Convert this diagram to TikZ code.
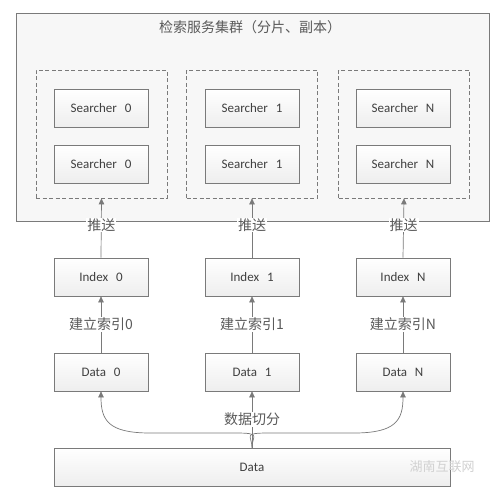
\documentclass[tikz,border=0pt]{standalone}
\usepackage{fontspec}
\setmainfont{Carlito}
\newfontfamily\cjk{Noto Sans CJK SC}
\usetikzlibrary{arrows.meta,shadows}
\definecolor{linec}{HTML}{7A7A7A}
\definecolor{txtc}{HTML}{404040}
\definecolor{cjkc}{HTML}{5A5A5A}
\definecolor{boxbot}{HTML}{EEEEEE}
\tikzset{
  sbox/.style={draw=linec, line width=0.7pt, minimum width=94pt, minimum height=38pt,
    inner sep=0pt, top color=white, bottom color=boxbot, text=txtc, font=\fontsize{13}{15}\selectfont,
    drop shadow={opacity=0.12, shadow xshift=1pt, shadow yshift=-1pt}},
  grp/.style={draw=linec, line width=0.7pt, dashed, dash pattern=on 4pt off 2.5pt, minimum width=131pt, minimum height=128pt,
    inner sep=0pt, fill=white!97!black},
  outerbox/.style={draw=linec, line width=0.7pt, minimum width=473pt, minimum height=208pt, inner sep=0pt,
    fill=white!97!black, drop shadow={opacity=0.10, shadow xshift=1pt, shadow yshift=-1pt}},
  arr/.style={draw=linec, line width=0.7pt, -{Triangle[width=5.5pt,length=6pt]}},
  lbl/.style={fill=white, inner sep=1pt, text=cjkc, font=\cjk\fontsize{14}{16}\selectfont},
}
\begin{document}
\begin{tikzpicture}[x=1pt,y=-1pt]
\useasboundingbox[fill=white] (0,0) rectangle (500,503);
\node[outerbox] (outer) at (252.5,117) {};
\node[text=cjkc, font=\cjk\fontsize{14}{16}\selectfont] (title) at (250,27) {检索服务集群（分片、副本）};
\node[grp] (g0) at (101.5,134) {};
\node[grp] (g1) at (252,134) {};
\node[grp] (gN) at (404,134) {};
\node[sbox] (s0a) at (101,108) {Searcher\hspace{0.6em}0};
\node[sbox] (s0b) at (101,164) {Searcher\hspace{0.6em}0};
\node[sbox] (s1a) at (252,108) {Searcher\hspace{0.6em}1};
\node[sbox] (s1b) at (252,164) {Searcher\hspace{0.6em}1};
\node[sbox] (sNa) at (403,108) {Searcher\hspace{0.6em}N};
\node[sbox] (sNb) at (403,164) {Searcher\hspace{0.6em}N};
\node[sbox] (i0) at (101,277) {Index\hspace{0.6em}0};
\node[sbox] (i1) at (252,277) {Index\hspace{0.6em}1};
\node[sbox] (iN) at (403,277) {Index\hspace{0.6em}N};
\node[sbox] (d0) at (101,372) {Data\hspace{0.6em}0};
\node[sbox] (d1) at (252,372) {Data\hspace{0.6em}1};
\node[sbox] (dN) at (403,372) {Data\hspace{0.6em}N};
\node[sbox, minimum width=396pt] (data) at (252,467) {Data};
\node[text=black!18, font=\cjk\fontsize{13}{15}\selectfont] (wm) at (442,467) {湖南互联网};
% push arrows
\draw[arr] (i0.north) -- node[lbl, pos=0.55] {推送} (g0.south);
\draw[arr] (i1.north) -- node[lbl, pos=0.55] {推送} (g1.south);
\draw[arr] (iN.north) -- node[lbl, pos=0.55] {推送} (gN.south);
% index arrows
\draw[arr] (d0.north) -- node[lbl] {建立索引0} (i0.south);
\draw[arr] (d1.north) -- node[lbl] {建立索引1} (i1.south);
\draw[arr] (dN.north) -- node[lbl] {建立索引N} (iN.south);
% split arrows
\draw[arr] (data.north) -- node[lbl, pos=0.5] {数据切分} (d1.south);
\draw[arr] (data.north) .. controls +(0,-12) and (262,433) .. (235,433) -- (150,433)
  .. controls (108,433) and (101,420) .. (d0.south);
\draw[arr] (data.north) .. controls +(0,-12) and (242,433) .. (269,433) -- (354,433)
  .. controls (396,433) and (403,420) .. (dN.south);
\end{tikzpicture}
\end{document}
